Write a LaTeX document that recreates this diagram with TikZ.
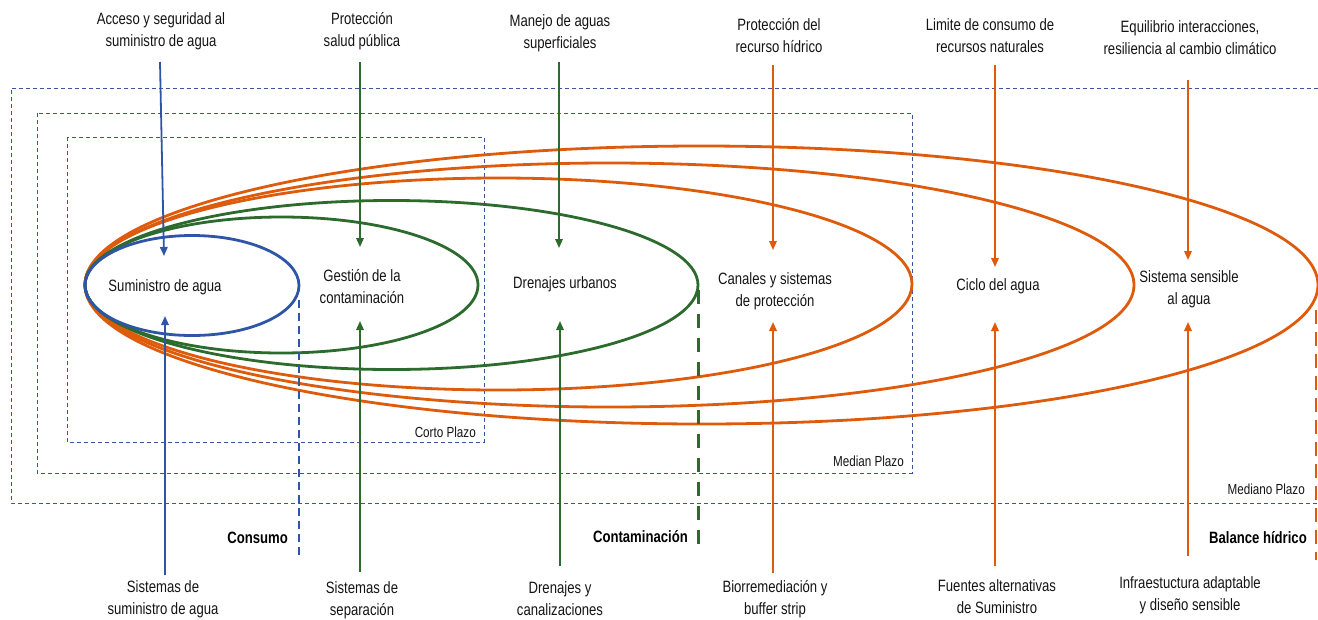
\documentclass[tikz,border=0pt]{standalone}
\usepackage{fontspec}
\setmainfont[FakeStretch=0.8]{Liberation Sans}
\usetikzlibrary{arrows.meta}
\definecolor{supply}{HTML}{2F55A6}
\definecolor{pollution}{HTML}{2C6A2E}
\definecolor{balance}{HTML}{DE5B0C}
\definecolor{framec}{HTML}{3A55A0}
\definecolor{ink}{HTML}{141414}
\begin{document}
\begin{tikzpicture}[x=1pt,y=-1pt,
  lbl/.style={font=\fontsize{16.4}{22}\selectfont, align=center, inner sep=0pt, text=ink},
  tag/.style={font=\bfseries\fontsize{16.4}{22}\selectfont, anchor=east, inner sep=0pt, text=black},
  plazo/.style={font=\fontsize{14.6}{18}\selectfont, anchor=east, inner sep=0pt, text=ink},
  frame/.style={draw=framec, line width=0.9pt, dash pattern=on 4pt off 3pt},
  ring/.style={line width=2.8pt},
  link/.style={line width=1.8pt, -{Triangle[length=9pt,width=7.5pt]}}]
\useasboundingbox (0,0) rectangle (1318,619);

% time horizon frames
\draw[frame] (1318,88) -- (11,88) -- (11,503) -- (1318,503);
\draw[frame] (37,113) rectangle (912,473);
\draw[frame] (67,137) rectangle (484,442);
\node[plazo] (corto) at (476,432) {Corto Plazo};
\node[plazo] (median) at (904,461) {Median Plazo};
\node[plazo] (mediano) at (1305,489) {Mediano Plazo};

% nested scopes, all touching on the left
\draw[ring, balance] (701.5,285) ellipse [x radius=616.5pt, y radius=139pt];
\draw[ring, balance] (609.5,285) ellipse [x radius=524.5pt, y radius=122pt];
\draw[ring, balance] (498.5,284) ellipse [x radius=413.5pt, y radius=106pt];
\draw[ring, pollution] (391.5,285) ellipse [x radius=306.5pt, y radius=84.5pt];
\draw[ring, pollution] (281.5,285) ellipse [x radius=196.5pt, y radius=68pt];
\draw[ring, supply] (192,285.5) ellipse [x radius=107pt, y radius=50pt];

% category dividers
\draw[supply, line width=1.5pt, dash pattern=on 8pt off 5pt] (299,300) -- (299,556);
\draw[pollution, line width=3pt, dash pattern=on 14pt off 10pt] (698,290) -- (698,547);
\draw[balance, line width=2.6pt, dash pattern=on 14pt off 8pt] (1316,310) -- (1316,560);
\node[tag] (consumo) at (288,538) {Consumo};
\node[tag] (contam) at (688,537) {Contaminación};
\node[tag] (balhid) at (1307,538) {Balance hídrico};

% inner labels
\node[lbl] (i1) at (165,287) {Suministro de agua};
\node[lbl] (i2) at (362,287) {Gestión de la\\contaminación};
\node[lbl] (i3) at (565,284) {Drenajes urbanos};
\node[lbl] (i4) at (775,291) {Canales y sistemas\\de protección};
\node[lbl] (i5) at (998,286) {Ciclo del agua};
\node[lbl] (i6) at (1189,289) {Sistema sensible\\al agua};

% goals (top)
\node[lbl] (t1) at (161,31) {Acceso y seguridad al\\suministro de agua};
\node[lbl] (t2) at (362,31) {Protección\\salud pública};
\node[lbl] (t3) at (560,33) {Manejo de aguas\\superficiales};
\node[lbl] (t4) at (779,36) {Protección del\\recurso hídrico};
\node[lbl] (t5) at (990,36) {Limite de consumo de\\recursos naturales};
\node[lbl] (t6) at (1190,38) {Equilibrio interacciones,\\resiliencia al cambio climático};

% measures (bottom)
\node[lbl] (b1) at (163,599) {Sistemas de\\suministro de agua};
\node[lbl] (b2) at (362,600) {Sistemas de\\separación};
\node[lbl] (b3) at (560,599) {Drenajes y\\canalizaciones};
\node[lbl] (b4) at (775,599) {Biorremediación y\\buffer strip};
\node[lbl] (b5) at (997,597) {Fuentes alternativas\\de Suministro};
\node[lbl] (b6) at (1190,595) {Infraestuctura adaptable\\y diseño sensible};

% arrow end points
\coordinate (t1s) at (160,62);   \coordinate (t1e) at (164,256);
\coordinate (b1s) at (165,575);  \coordinate (b1e) at (165,316);
\coordinate (t2s) at (360,62);   \coordinate (t2e) at (360,247);
\coordinate (b2s) at (360,572);  \coordinate (b2e) at (360,321);
\coordinate (t3s) at (559,62);   \coordinate (t3e) at (559,248);
\coordinate (b3s) at (560,566);  \coordinate (b3e) at (560,321);
\coordinate (t4s) at (773,65);   \coordinate (t4e) at (773,250);
\coordinate (b4s) at (773,573);  \coordinate (b4e) at (773,322);
\coordinate (t5s) at (995,65);   \coordinate (t5e) at (995,267);
\coordinate (b5s) at (995,566);  \coordinate (b5e) at (995,322);
\coordinate (t6s) at (1188,80);  \coordinate (t6e) at (1188,260);
\coordinate (b6s) at (1188,556); \coordinate (b6e) at (1188,322);

\draw[link, supply] (t1s) -- (t1e);
\draw[link, supply] (b1s) -- (b1e);
\draw[link, pollution] (t2s) -- (t2e);
\draw[link, pollution] (b2s) -- (b2e);
\draw[link, pollution] (t3s) -- (t3e);
\draw[link, pollution] (b3s) -- (b3e);
\draw[link, balance] (t4s) -- (t4e);
\draw[link, balance] (b4s) -- (b4e);
\draw[link, balance] (t5s) -- (t5e);
\draw[link, balance] (b5s) -- (b5e);
\draw[link, balance] (t6s) -- (t6e);
\draw[link, balance] (b6s) -- (b6e);
\end{tikzpicture}
\end{document}
